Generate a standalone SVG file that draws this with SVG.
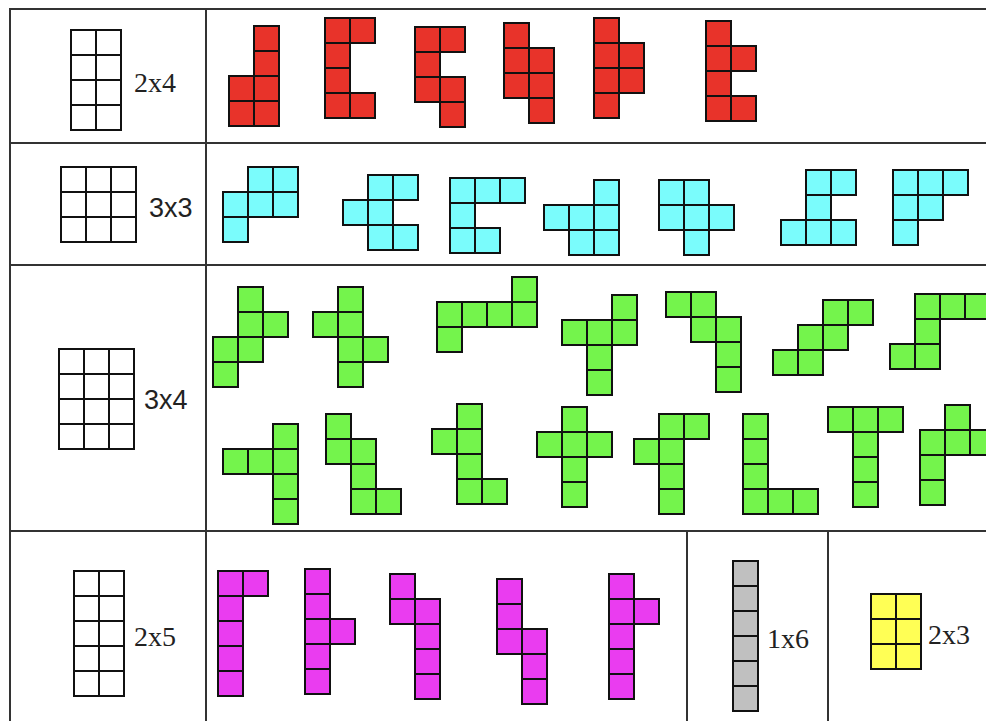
<svg xmlns="http://www.w3.org/2000/svg" width="986" height="721" viewBox="0 0 986 721">
<style>
.pc rect{stroke:#111;stroke-width:2}
.r{fill:#e8332a}.c{fill:#7afcfc}.g{fill:#74f44c}.m{fill:#ea3cf0}.s{fill:#c0c0c0}.y{fill:#ffff55}.w{fill:#fff}
.tb line{stroke:#333;stroke-width:2}
.t{font-family:"Liberation Serif",serif;font-size:28px;fill:#222}
.ts{font-family:"Liberation Sans",sans-serif;font-size:27px;fill:#222}
</style>
<defs><rect id="k" width="25" height="25"/></defs>
<rect x="0" y="0" width="986" height="721" fill="#fff"/>
<g id="table" class="tb">
<line x1="10" y1="9" x2="986" y2="9"/>
<line x1="10" y1="143" x2="986" y2="143"/>
<line x1="10" y1="265" x2="986" y2="265"/>
<line x1="10" y1="531" x2="986" y2="531"/>
<line x1="10" y1="8" x2="10" y2="721"/>
<line x1="206" y1="8" x2="206" y2="721"/>
<line x1="687" y1="531" x2="687" y2="721"/>
<line x1="828" y1="531" x2="828" y2="721"/>
</g>
<g id="grid2x4" class="pc w" transform="translate(71,30)"><rect x="0" y="0" width="25" height="25"/><rect x="25" y="0" width="25" height="25"/><rect x="0" y="25" width="25" height="25"/><rect x="25" y="25" width="25" height="25"/><rect x="0" y="50" width="25" height="25"/><rect x="25" y="50" width="25" height="25"/><rect x="0" y="75" width="25" height="25"/><rect x="25" y="75" width="25" height="25"/></g>
<text class="t" x="134" y="92">2x4</text>
<g id="grid3x3" class="pc w" transform="translate(61,167)"><rect x="0" y="0" width="25" height="25"/><rect x="25" y="0" width="25" height="25"/><rect x="50" y="0" width="25" height="25"/><rect x="0" y="25" width="25" height="25"/><rect x="25" y="25" width="25" height="25"/><rect x="50" y="25" width="25" height="25"/><rect x="0" y="50" width="25" height="25"/><rect x="25" y="50" width="25" height="25"/><rect x="50" y="50" width="25" height="25"/></g>
<text class="ts" x="149" y="217">3x3</text>
<g id="grid3x4" class="pc w" transform="translate(59,349)"><rect x="0" y="0" width="25" height="25"/><rect x="25" y="0" width="25" height="25"/><rect x="50" y="0" width="25" height="25"/><rect x="0" y="25" width="25" height="25"/><rect x="25" y="25" width="25" height="25"/><rect x="50" y="25" width="25" height="25"/><rect x="0" y="50" width="25" height="25"/><rect x="25" y="50" width="25" height="25"/><rect x="50" y="50" width="25" height="25"/><rect x="0" y="75" width="25" height="25"/><rect x="25" y="75" width="25" height="25"/><rect x="50" y="75" width="25" height="25"/></g>
<text class="ts" x="144" y="409">3x4</text>
<g id="grid2x5" class="pc w" transform="translate(74,571)"><rect x="0" y="0" width="25" height="25"/><rect x="25" y="0" width="25" height="25"/><rect x="0" y="25" width="25" height="25"/><rect x="25" y="25" width="25" height="25"/><rect x="0" y="50" width="25" height="25"/><rect x="25" y="50" width="25" height="25"/><rect x="0" y="75" width="25" height="25"/><rect x="25" y="75" width="25" height="25"/><rect x="0" y="100" width="25" height="25"/><rect x="25" y="100" width="25" height="25"/></g>
<text class="t" x="134" y="646">2x5</text>

<g id="red1" class="pc r" transform="translate(229,26)"><rect x="25" y="0" width="25" height="25"/><rect x="25" y="25" width="25" height="25"/><rect x="25" y="50" width="25" height="25"/><rect x="25" y="75" width="25" height="25"/><rect x="0" y="50" width="25" height="25"/><rect x="0" y="75" width="25" height="25"/></g>
<g id="red2" class="pc r" transform="translate(325,18)"><rect x="0" y="0" width="25" height="25"/><rect x="25" y="0" width="25" height="25"/><rect x="0" y="25" width="25" height="25"/><rect x="0" y="50" width="25" height="25"/><rect x="0" y="75" width="25" height="25"/><rect x="25" y="75" width="25" height="25"/></g>
<g id="red3" class="pc r" transform="translate(415,27)"><rect x="0" y="0" width="25" height="25"/><rect x="25" y="0" width="25" height="25"/><rect x="0" y="25" width="25" height="25"/><rect x="0" y="50" width="25" height="25"/><rect x="25" y="50" width="25" height="25"/><rect x="25" y="75" width="25" height="25"/></g>
<g id="red4" class="pc r" transform="translate(504,23)"><rect x="0" y="0" width="25" height="25"/><rect x="0" y="25" width="25" height="25"/><rect x="25" y="25" width="25" height="25"/><rect x="0" y="50" width="25" height="25"/><rect x="25" y="50" width="25" height="25"/><rect x="25" y="75" width="25" height="25"/></g>
<g id="red5" class="pc r" transform="translate(594,18)"><rect x="0" y="0" width="25" height="25"/><rect x="0" y="25" width="25" height="25"/><rect x="25" y="25" width="25" height="25"/><rect x="0" y="50" width="25" height="25"/><rect x="25" y="50" width="25" height="25"/><rect x="0" y="75" width="25" height="25"/></g>
<g id="red6" class="pc r" transform="translate(706,21)"><rect x="0" y="0" width="25" height="25"/><rect x="0" y="25" width="25" height="25"/><rect x="25" y="25" width="25" height="25"/><rect x="0" y="50" width="25" height="25"/><rect x="0" y="75" width="25" height="25"/><rect x="25" y="75" width="25" height="25"/></g>

<g id="cyan1" class="pc c" transform="translate(223,167)"><rect x="25" y="0" width="25" height="25"/><rect x="50" y="0" width="25" height="25"/><rect x="0" y="25" width="25" height="25"/><rect x="25" y="25" width="25" height="25"/><rect x="50" y="25" width="25" height="25"/><rect x="0" y="50" width="25" height="25"/></g>
<g id="cyan2" class="pc c" transform="translate(343,175)"><rect x="25" y="0" width="25" height="25"/><rect x="50" y="0" width="25" height="25"/><rect x="0" y="25" width="25" height="25"/><rect x="25" y="25" width="25" height="25"/><rect x="25" y="50" width="25" height="25"/><rect x="50" y="50" width="25" height="25"/></g>
<g id="cyan3" class="pc c" transform="translate(450,178)"><rect x="0" y="0" width="25" height="25"/><rect x="25" y="0" width="25" height="25"/><rect x="50" y="0" width="25" height="25"/><rect x="0" y="25" width="25" height="25"/><rect x="0" y="50" width="25" height="25"/><rect x="25" y="50" width="25" height="25"/></g>
<g id="cyan4" class="pc c" transform="translate(544,180)"><rect x="50" y="0" width="25" height="25"/><rect x="0" y="25" width="25" height="25"/><rect x="25" y="25" width="25" height="25"/><rect x="50" y="25" width="25" height="25"/><rect x="25" y="50" width="25" height="25"/><rect x="50" y="50" width="25" height="25"/></g>
<g id="cyan5" class="pc c" transform="translate(659,180)"><rect x="0" y="0" width="25" height="25"/><rect x="25" y="0" width="25" height="25"/><rect x="0" y="25" width="25" height="25"/><rect x="25" y="25" width="25" height="25"/><rect x="50" y="25" width="25" height="25"/><rect x="25" y="50" width="25" height="25"/></g>
<g id="cyan6" class="pc c" transform="translate(781,170)"><rect x="25" y="0" width="25" height="25"/><rect x="50" y="0" width="25" height="25"/><rect x="25" y="25" width="25" height="25"/><rect x="0" y="50" width="25" height="25"/><rect x="25" y="50" width="25" height="25"/><rect x="50" y="50" width="25" height="25"/></g>
<g id="cyan7" class="pc c" transform="translate(893,170)"><rect x="0" y="0" width="25" height="25"/><rect x="25" y="0" width="25" height="25"/><rect x="50" y="0" width="25" height="25"/><rect x="0" y="25" width="25" height="25"/><rect x="25" y="25" width="25" height="25"/><rect x="0" y="50" width="25" height="25"/></g>

<g id="green1" class="pc g" transform="translate(213,287)"><rect x="25" y="0" width="25" height="25"/><rect x="25" y="25" width="25" height="25"/><rect x="50" y="25" width="25" height="25"/><rect x="0" y="50" width="25" height="25"/><rect x="25" y="50" width="25" height="25"/><rect x="0" y="75" width="25" height="25"/></g>
<g id="green2" class="pc g" transform="translate(313,287)"><rect x="25" y="0" width="25" height="25"/><rect x="0" y="25" width="25" height="25"/><rect x="25" y="25" width="25" height="25"/><rect x="25" y="50" width="25" height="25"/><rect x="50" y="50" width="25" height="25"/><rect x="25" y="75" width="25" height="25"/></g>
<g id="green3" class="pc g" transform="translate(437,277)"><rect x="75" y="0" width="25" height="25"/><rect x="0" y="25" width="25" height="25"/><rect x="25" y="25" width="25" height="25"/><rect x="50" y="25" width="25" height="25"/><rect x="75" y="25" width="25" height="25"/><rect x="0" y="50" width="25" height="25"/></g>
<g id="green4" class="pc g" transform="translate(562,295)"><rect x="50" y="0" width="25" height="25"/><rect x="0" y="25" width="25" height="25"/><rect x="25" y="25" width="25" height="25"/><rect x="50" y="25" width="25" height="25"/><rect x="25" y="50" width="25" height="25"/><rect x="25" y="75" width="25" height="25"/></g>
<g id="green5" class="pc g" transform="translate(666,292)"><rect x="0" y="0" width="25" height="25"/><rect x="25" y="0" width="25" height="25"/><rect x="25" y="25" width="25" height="25"/><rect x="50" y="25" width="25" height="25"/><rect x="50" y="50" width="25" height="25"/><rect x="50" y="75" width="25" height="25"/></g>
<g id="green6" class="pc g" transform="translate(773,300)"><rect x="50" y="0" width="25" height="25"/><rect x="75" y="0" width="25" height="25"/><rect x="25" y="25" width="25" height="25"/><rect x="50" y="25" width="25" height="25"/><rect x="0" y="50" width="25" height="25"/><rect x="25" y="50" width="25" height="25"/></g>
<g id="green7" class="pc g" transform="translate(890,294)"><rect x="25" y="0" width="25" height="25"/><rect x="50" y="0" width="25" height="25"/><rect x="75" y="0" width="25" height="25"/><rect x="25" y="25" width="25" height="25"/><rect x="0" y="50" width="25" height="25"/><rect x="25" y="50" width="25" height="25"/></g>
<g id="green8" class="pc g" transform="translate(223,424)"><rect x="50" y="0" width="25" height="25"/><rect x="0" y="25" width="25" height="25"/><rect x="25" y="25" width="25" height="25"/><rect x="50" y="25" width="25" height="25"/><rect x="50" y="50" width="25" height="25"/><rect x="50" y="75" width="25" height="25"/></g>
<g id="green9" class="pc g" transform="translate(326,414)"><rect x="0" y="0" width="25" height="25"/><rect x="0" y="25" width="25" height="25"/><rect x="25" y="25" width="25" height="25"/><rect x="25" y="50" width="25" height="25"/><rect x="25" y="75" width="25" height="25"/><rect x="50" y="75" width="25" height="25"/></g>
<g id="green10" class="pc g" transform="translate(432,404)"><rect x="25" y="0" width="25" height="25"/><rect x="0" y="25" width="25" height="25"/><rect x="25" y="25" width="25" height="25"/><rect x="25" y="50" width="25" height="25"/><rect x="25" y="75" width="25" height="25"/><rect x="50" y="75" width="25" height="25"/></g>
<g id="green11" class="pc g" transform="translate(537,407)"><rect x="25" y="0" width="25" height="25"/><rect x="0" y="25" width="25" height="25"/><rect x="25" y="25" width="25" height="25"/><rect x="50" y="25" width="25" height="25"/><rect x="25" y="50" width="25" height="25"/><rect x="25" y="75" width="25" height="25"/></g>
<g id="green12" class="pc g" transform="translate(634,414)"><rect x="25" y="0" width="25" height="25"/><rect x="50" y="0" width="25" height="25"/><rect x="0" y="25" width="25" height="25"/><rect x="25" y="25" width="25" height="25"/><rect x="25" y="50" width="25" height="25"/><rect x="25" y="75" width="25" height="25"/></g>
<g id="green13" class="pc g" transform="translate(743,414)"><rect x="0" y="0" width="25" height="25"/><rect x="0" y="25" width="25" height="25"/><rect x="0" y="50" width="25" height="25"/><rect x="0" y="75" width="25" height="25"/><rect x="25" y="75" width="25" height="25"/><rect x="50" y="75" width="25" height="25"/></g>
<g id="green14" class="pc g" transform="translate(828,407)"><rect x="0" y="0" width="25" height="25"/><rect x="25" y="0" width="25" height="25"/><rect x="50" y="0" width="25" height="25"/><rect x="25" y="25" width="25" height="25"/><rect x="25" y="50" width="25" height="25"/><rect x="25" y="75" width="25" height="25"/></g>
<g id="green15" class="pc g" transform="translate(920,405)"><rect x="25" y="0" width="25" height="25"/><rect x="0" y="25" width="25" height="25"/><rect x="25" y="25" width="25" height="25"/><rect x="50" y="25" width="25" height="25"/><rect x="0" y="50" width="25" height="25"/><rect x="0" y="75" width="25" height="25"/></g>

<g id="mag1" class="pc m" transform="translate(218,571)"><rect x="0" y="0" width="25" height="25"/><rect x="25" y="0" width="25" height="25"/><rect x="0" y="25" width="25" height="25"/><rect x="0" y="50" width="25" height="25"/><rect x="0" y="75" width="25" height="25"/><rect x="0" y="100" width="25" height="25"/></g>
<g id="mag2" class="pc m" transform="translate(305,569)"><rect x="0" y="0" width="25" height="25"/><rect x="0" y="25" width="25" height="25"/><rect x="0" y="50" width="25" height="25"/><rect x="25" y="50" width="25" height="25"/><rect x="0" y="75" width="25" height="25"/><rect x="0" y="100" width="25" height="25"/></g>
<g id="mag3" class="pc m" transform="translate(390,574)"><rect x="0" y="0" width="25" height="25"/><rect x="0" y="25" width="25" height="25"/><rect x="25" y="25" width="25" height="25"/><rect x="25" y="50" width="25" height="25"/><rect x="25" y="75" width="25" height="25"/><rect x="25" y="100" width="25" height="25"/></g>
<g id="mag4" class="pc m" transform="translate(497,579)"><rect x="0" y="0" width="25" height="25"/><rect x="0" y="25" width="25" height="25"/><rect x="0" y="50" width="25" height="25"/><rect x="25" y="50" width="25" height="25"/><rect x="25" y="75" width="25" height="25"/><rect x="25" y="100" width="25" height="25"/></g>
<g id="mag5" class="pc m" transform="translate(609,574)"><rect x="0" y="0" width="25" height="25"/><rect x="0" y="25" width="25" height="25"/><rect x="25" y="25" width="25" height="25"/><rect x="0" y="50" width="25" height="25"/><rect x="0" y="75" width="25" height="25"/><rect x="0" y="100" width="25" height="25"/></g>

<g id="gray1x6" class="pc s" transform="translate(733,561)"><rect x="0" y="0" width="25" height="25"/><rect x="0" y="25" width="25" height="25"/><rect x="0" y="50" width="25" height="25"/><rect x="0" y="75" width="25" height="25"/><rect x="0" y="100" width="25" height="25"/><rect x="0" y="125" width="25" height="25"/></g>
<text class="t" x="767" y="648">1x6</text>
<g id="yellow2x3" class="pc y" transform="translate(871,594)"><rect x="0" y="0" width="25" height="25"/><rect x="25" y="0" width="25" height="25"/><rect x="0" y="25" width="25" height="25"/><rect x="25" y="25" width="25" height="25"/><rect x="0" y="50" width="25" height="25"/><rect x="25" y="50" width="25" height="25"/></g>
<text class="t" x="928" y="644">2x3</text>
</svg>
